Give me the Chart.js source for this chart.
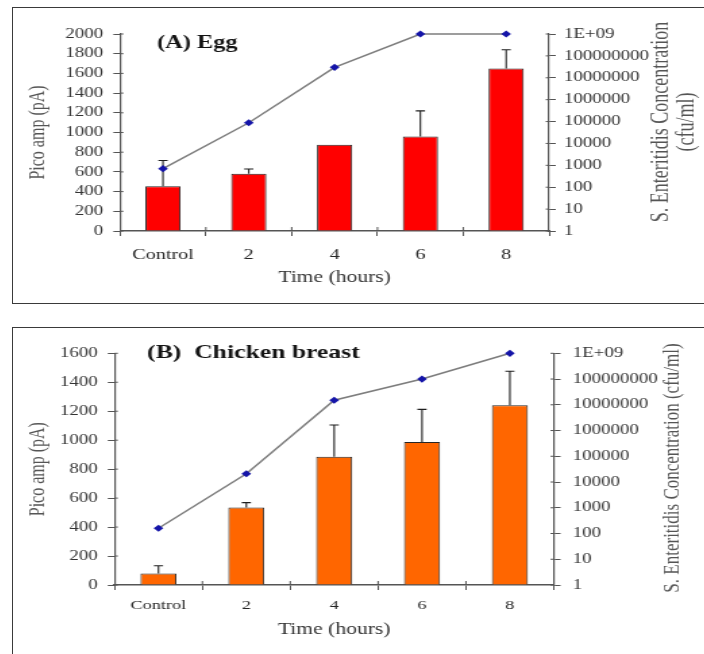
<!DOCTYPE html>
<html>
<head>
<meta charset="utf-8">
<script src="https://cdn.jsdelivr.net/npm/chart.js@4.4.1/dist/chart.umd.min.js"></script>
<style>
  html, body { margin: 0; padding: 0; background: #fff; overflow: hidden; }
  body { width: 704px; height: 654px; position: relative; }
  .panel { position: absolute; box-sizing: border-box; border: 1.5px solid #3a3a3a; }
  canvas { position: absolute; }
</style>
</head>
<body>
<div class="panel" style="left:12px;top:7px;width:720px;height:297px"></div>
<div class="panel" style="left:12px;top:327px;width:720px;height:360px"></div>
<!-- drawn narrow and stretched sideways, like the source figure -->
<canvas id="chartA" width="511" height="294" style="left:13px;top:9px;width:690px;height:294px"></canvas>
<canvas id="chartB" width="511" height="326" style="left:13px;top:328px;width:690px;height:326px"></canvas>
<script>
// --- data ---
const categories = ['Control', '2', '4', '6', '8'];

const eggCurrent = [455, 580, 875, 960, 1650];          // pA
const eggCurrentErr = [260, 50, 0, 260, 190];           // + error
const eggConc = [700, 88000, 30000000, 1000000000, 1000000000]; // cfu/ml

const chickenCurrent = [80, 536, 886, 988, 1241];
const chickenCurrentErr = [53, 33, 219, 225, 235];
const chickenConc = [160, 21000, 15000000, 100000000, 1000000000];

const rightTickValues = [1, 10, 100, 1000, 10000, 100000, 1000000, 10000000, 100000000, 1000000000];
const rightTickLabels = ['1', '10', '100', '1000', '10000', '100000', '1000000', '10000000', '100000000', '1E+09'];

const SERIF = '"Liberation Serif", "Times New Roman", serif';

// upper error bars on the bar dataset
const errorBars = {
  id: 'errorBars',
  afterDatasetDraw(chart, args, opts) {
    if (args.meta.type !== 'bar') return;
    const ctx = chart.ctx;
    const x = chart.scales.x, y = chart.scales.y;
    const values = chart.data.datasets[args.index].data;
    ctx.save();
    ctx.strokeStyle = '#1e1e1e';
    ctx.lineWidth = 1.1;
    values.forEach((v, i) => {
      const e = opts.errors[i];
      if (!e) return;
      const px = x.getPixelForValue(i);
      const y0 = y.getPixelForValue(v);
      const y1 = y.getPixelForValue(v + e);
      ctx.beginPath();
      ctx.moveTo(px, y0);
      ctx.lineTo(px, y1);
      ctx.moveTo(px - 3.4, y1);
      ctx.lineTo(px + 3.4, y1);
      ctx.stroke();
    });
    ctx.restore();
  }
};

// Excel style ticks cross the axis line: add the short inner half
const innerTicks = {
  id: 'innerTicks',
  beforeDatasetsDraw(chart) {
    const ctx = chart.ctx;
    const { x, y, y1 } = chart.scales;
    ctx.save();
    ctx.strokeStyle = '#555';
    ctx.lineWidth = 1;
    ctx.beginPath();
    y.ticks.forEach((t, i) => {
      const py = y.getPixelForTick(i);
      ctx.moveTo(y.right, py); ctx.lineTo(y.right + 2.5, py);
    });
    y1.ticks.forEach((t, i) => {
      const py = y1.getPixelForTick(i);
      ctx.moveTo(y1.left, py); ctx.lineTo(y1.left - 2.5, py);
    });
    for (let i = 1; i < x.ticks.length; i++) {
      const px = (x.getPixelForTick(i - 1) + x.getPixelForTick(i)) / 2;
      ctx.moveTo(px, x.top); ctx.lineTo(px, x.top - 4);
    }
    ctx.stroke();
    ctx.restore();
  }
};

// panel heading and right-hand axis title (reads bottom to top)
const panelText = {
  id: 'panelText',
  afterDraw(chart, args, opts) {
    const ctx = chart.ctx;
    ctx.save();
    ctx.fillStyle = '#141414';
    ctx.font = 'bold ' + opts.titleSize + 'px ' + SERIF;
    ctx.textBaseline = 'middle';
    ctx.textAlign = 'left';
    ctx.fillText(opts.title, opts.titleX, opts.titleY);

    ctx.fillStyle = '#555';
    ctx.font = opts.sideSize + 'px ' + SERIF;
    ctx.textAlign = 'center';
    opts.side.forEach((line, i) => {
      ctx.save();
      ctx.translate(opts.sideX[i], opts.sideY);
      ctx.rotate(-Math.PI / 2);
      ctx.fillText(line, 0, 0);
      ctx.restore();
    });
    ctx.restore();
  }
};

function makeChart(id, p) {
  const canvas = document.getElementById(id);
  const W = canvas.width, H = canvas.height;
  return new Chart(canvas, {
    type: 'bar',
    data: {
      labels: categories,
      datasets: [
        {
          type: 'line',
          data: p.conc,
          yAxisID: 'y1',
          order: 0,
          clip: false,
          borderColor: '#7d7d7d',
          borderWidth: 1.5,
          tension: 0,
          pointStyle: 'rectRot',
          pointRadius: 3.6,
          pointBackgroundColor: '#1414a8',
          pointBorderColor: '#1414a8',
          pointBorderWidth: 0
        },
        {
          type: 'bar',
          data: p.current,
          yAxisID: 'y',
          order: 1,
          backgroundColor: p.barColor,
          borderColor: '#262626',
          borderWidth: 1,
          barPercentage: 0.41,
          categoryPercentage: 1
        }
      ]
    },
    options: {
      responsive: false,
      animation: false,
      devicePixelRatio: 1,
      layout: { padding: { top: p.top, left: 0, right: 0, bottom: 0 } },
      plugins: {
        legend: { display: false },
        tooltip: { enabled: false },
        errorBars: { errors: p.errors },
        panelText: p.text
      },
      scales: {
        x: {
          offset: true,
          grid: { display: true, drawOnChartArea: false, tickLength: 5, color: '#555', offset: true },
          border: { display: true, color: '#555', width: 1.5 },
          ticks: { color: '#262626', font: { family: SERIF, size: p.xFont }, padding: p.xPad, maxRotation: 0, autoSkip: false },
          title: { display: true, text: 'Time (hours)', color: '#333', font: { family: SERIF, size: 16 }, padding: { top: 0, bottom: p.xTitlePad } },
          afterFit: s => { s.height = H - p.bottom; }
        },
        y: {
          position: 'left',
          min: 0,
          max: p.yMax,
          ticks: {
            stepSize: 200,
            autoSkip: false,
            color: '#333',
            font: { family: SERIF, size: 14 },
            padding: 7.5,
            callback: v => String(v)
          },
          grid: { display: true, drawOnChartArea: false, tickLength: 5, color: '#555' },
          border: { display: true, color: '#555', width: 1.2 },
          title: { display: true, text: 'Pico amp (pA)', color: '#555', font: { family: SERIF, size: 16 }, padding: { top: 9, bottom: 0 } },
          afterFit: s => { s.width = p.left; }
        },
        y1: {
          type: 'logarithmic',
          position: 'right',
          min: 1,
          max: 1000000000,
          afterBuildTicks: s => { s.ticks = rightTickValues.map(v => ({ value: v })); },
          ticks: {
            autoSkip: false,
            color: '#333',
            font: { family: SERIF, size: 14 },
            padding: p.rPad,
            callback: v => rightTickLabels[rightTickValues.indexOf(v)] ?? ''
          },
          grid: { display: true, drawOnChartArea: false, tickLength: 5, color: '#555' },
          border: { display: true, color: '#555', width: 1.2 },
          afterFit: s => { s.width = W - p.right; }
        }
      }
    },
    plugins: [errorBars, innerTicks, panelText]
  });
}

makeChart('chartA', {
  current: eggCurrent, errors: eggCurrentErr, conc: eggConc,
  barColor: '#ff0000', yMax: 2000,
  left: 79.3, right: 397, top: 25, bottom: 222,
  xFont: 15, xPad: 10, xTitlePad: 16, rPad: 6,
  text: {
    title: '(A) Egg', titleSize: 18, titleX: 106.7, titleY: 34,
    side: ['S. Enteritidis Concentration', '(cfu/ml)'], sideSize: 18,
    sideX: [480.7, 499.3], sideY: 113
  }
});

makeChart('chartB', {
  current: chickenCurrent, errors: chickenCurrentErr, conc: chickenConc,
  barColor: '#ff6600', yMax: 1600,
  left: 75.2, right: 400.5, top: 25.3, bottom: 257,
  xFont: 13.5, xPad: 7, xTitlePad: 14.4, rPad: 9,
  text: {
    title: '(B)  Chicken breast', titleSize: 19, titleX: 99.3, titleY: 24.7,
    side: ['S. Enteritidis Concentration (cfu/ml)'], sideSize: 17,
    sideX: [488.9], sideY: 140
  }
});
</script>
</body>
</html>
